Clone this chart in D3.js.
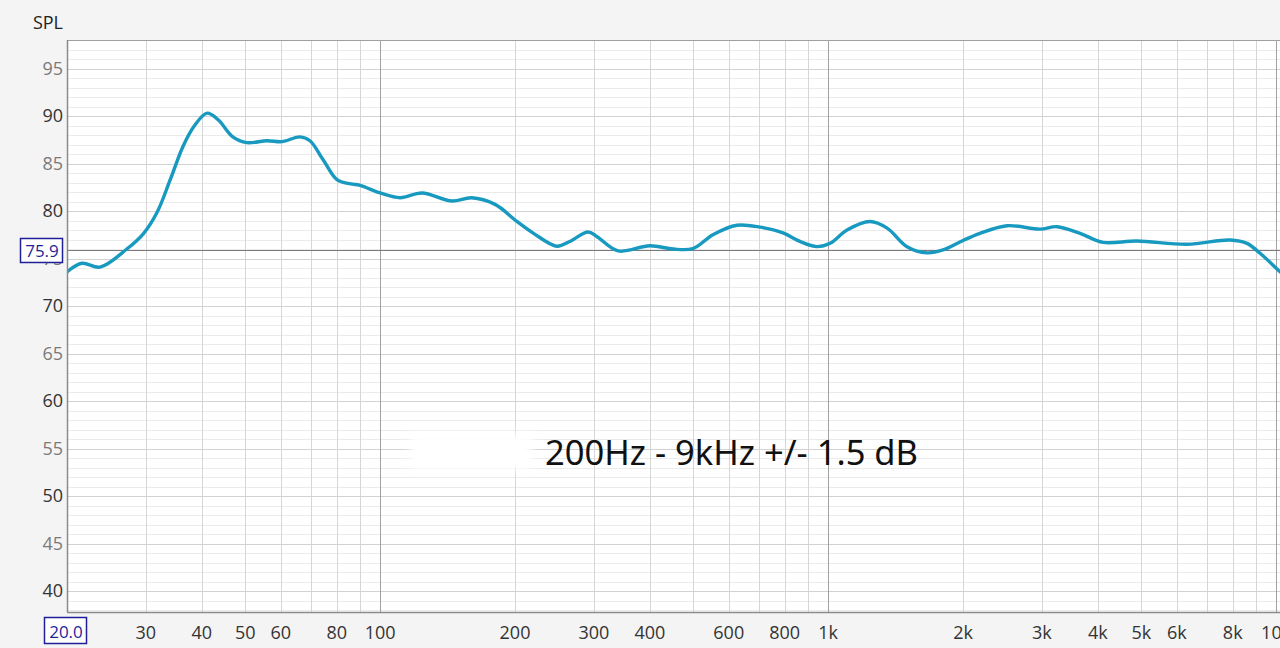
<!DOCTYPE html>
<html><head><meta charset="utf-8">
<script src="https://cdn.jsdelivr.net/npm/d3@7"></script>
<style>
html,body{margin:0;padding:0;background:#f4f4f4;}
svg{display:block;}
</style></head>
<body>
<svg id="c" width="1280" height="648"></svg>
<script>
// Frequency response data (Hz, dB SPL)
const freqs = [20, 21.6, 23.7, 27.2, 29.6, 31.8, 34.0, 36.3, 38.4, 41.1, 43.5, 46.9, 50.4, 55.9, 60.4, 66.2, 69.7, 74.6, 80.1, 86.0, 90.2, 100, 110.8, 124, 144.7, 160, 180.5, 202, 220, 248, 265, 291, 305, 340, 400, 451, 499, 553, 626, 705, 793, 865, 944, 1010, 1102, 1240, 1354, 1500, 1662, 1805, 2000, 2182, 2508, 2972, 3243, 3650, 4108, 4891, 6325, 7890, 8610, 9206, 10200];
const spl = [73.6, 74.5, 74.1, 76.0, 77.6, 79.9, 83.3, 86.8, 88.9, 90.3, 89.6, 87.8, 87.2, 87.4, 87.3, 87.8, 87.4, 85.4, 83.3, 82.85, 82.7, 81.9, 81.4, 81.9, 81.05, 81.4, 80.7, 78.9, 77.65, 76.3, 76.8, 77.8, 77.3, 75.8, 76.35, 76.0, 76.05, 77.5, 78.5, 78.3, 77.7, 76.8, 76.25, 76.6, 78.0, 78.9, 78.2, 76.25, 75.6, 75.9, 76.9, 77.65, 78.45, 78.1, 78.35, 77.65, 76.7, 76.85, 76.5, 76.95, 76.6, 75.55, 73.6];

const xTickValues = [30, 40, 50, 60, 80, 100, 200, 300, 400, 600, 800, 1000, 2000, 3000, 4000, 5000, 6000, 8000, 10000];
const xTickLabels = ["30", "40", "50", "60", "80", "100", "200", "300", "400", "600", "800", "1k", "2k", "3k", "4k", "5k", "6k", "8k", "10k"];
const yTickValues = [95, 90, 85, 80, 75, 70, 65, 60, 55, 50, 45, 40];
const referenceLevel = 75.9;
const startFreqLabel = "20.0";
const axisTitle = "SPL";
const annotation = "200Hz - 9kHz +/- 1.5 dB";

const svg = d3.select("#c");
const L = 67, R = 1280, T = 40, B = 612;
const x = d3.scaleLog().domain([20, 10200]).range([L, R]);
const y = d3.scaleLinear().domain([37.8, 98]).range([B, T]);
const FONT = "'Open Sans', 'Noto Sans', sans-serif";

const defs = svg.append("defs");
defs.append("clipPath").attr("id", "pc").append("rect")
  .attr("x", L).attr("y", T).attr("width", R - L).attr("height", B - T);
const blur = defs.append("filter").attr("id", "bl").attr("x", "-20%").attr("y", "-40%").attr("width", "140%").attr("height", "180%");
blur.append("feGaussianBlur").attr("stdDeviation", 4);

// plot background
svg.append("rect").attr("x", L).attr("y", T).attr("width", R - L).attr("height", B - T).attr("fill", "#ffffff");

const g = svg.append("g").attr("clip-path", "url(#pc)");

// horizontal grid every 1 dB
const hLines = d3.range(38, 99, 1);
g.selectAll(".hg").data(hLines).join("line")
  .attr("x1", L).attr("x2", R)
  .attr("y1", d => Math.round(y(d)) + 0.5).attr("y2", d => Math.round(y(d)) + 0.5)
  .attr("stroke", d => d % 5 === 0 ? "#d2d2d2" : "#ebebeb").attr("stroke-width", 1);

// vertical grid at 1..9 x decade
const vLines = [];
[10, 100, 1000, 10000].forEach(dec => { for (let m = 1; m <= 9; m++) { const f = m * dec; if (f >= 20 && f <= 10200) vLines.push(f); } });
g.selectAll(".vg").data(vLines).join("line")
  .attr("x1", d => Math.round(x(d)) + 0.5).attr("x2", d => Math.round(x(d)) + 0.5)
  .attr("y1", T).attr("y2", B)
  .attr("stroke", d => (d === 100 || d === 1000 || d === 10000) ? "#a0a0a0" : "#d6d6d6").attr("stroke-width", 1);

// white erased region
g.append("rect").attr("x", 410).attr("y", 434).attr("width", 122).attr("height", 36)
  .attr("fill", "#ffffff").attr("filter", "url(#bl)");

// reference line
g.append("line").attr("x1", L).attr("x2", R)
  .attr("y1", Math.round(y(referenceLevel)) + 0.5).attr("y2", Math.round(y(referenceLevel)) + 0.5)
  .attr("stroke", "#7a7a7a").attr("stroke-width", 1.2);

// curve
const line = d3.line().x((d, i) => x(freqs[i])).y(d => y(d)).curve(d3.curveCatmullRom.alpha(0.5));
g.append("path").datum(spl).attr("d", line)
  .attr("fill", "none").attr("stroke", "#1899c0").attr("stroke-width", 3.4)
  .attr("stroke-linejoin", "round").attr("stroke-linecap", "round");

// plot border
svg.append("line").attr("x1", L).attr("x2", R).attr("y1", T + 0.5).attr("y2", T + 0.5).attr("stroke", "#a0a0a0");
svg.append("line").attr("x1", L + 0.5).attr("x2", L + 0.5).attr("y1", T).attr("y2", B).attr("stroke", "#8a8a8a").attr("stroke-width", 1.5);
svg.append("line").attr("x1", L).attr("x2", R).attr("y1", B + 0.5).attr("y2", B + 0.5).attr("stroke", "#8a8a8a").attr("stroke-width", 1.5);

// y tick labels
svg.selectAll(".yl").data(yTickValues).join("text")
  .attr("x", 63).attr("y", d => y(d)).attr("dy", "0.35em")
  .attr("text-anchor", "end").attr("font-family", FONT).attr("font-size", 18)
  .attr("fill", d => d % 10 === 0 ? "#333333" : "#7a7a7a")
  .text(d => d);

// x tick labels
svg.selectAll(".xl").data(xTickValues).join("text")
  .attr("x", d => x(d)).attr("y", 633).attr("dy", "0.35em")
  .attr("text-anchor", "middle").attr("font-family", FONT).attr("font-size", 18)
  .attr("fill", "#333333")
  .text((d, i) => xTickLabels[i]);

// axis title
svg.append("text").attr("x", 63).attr("y", 29).attr("text-anchor", "end")
  .attr("font-family", FONT).attr("font-size", 18).attr("fill", "#222").text(axisTitle);

// reference level box
const refY = y(referenceLevel);
svg.append("rect").attr("x", 20.5).attr("y", refY - 11.5).attr("width", 42).attr("height", 24)
  .attr("fill", "#ffffff").attr("stroke", "#1f1f9a").attr("stroke-width", 1.5);
svg.append("text").attr("x", 42).attr("y", refY + 1).attr("dy", "0.35em").attr("text-anchor", "middle")
  .attr("font-family", FONT).attr("font-size", 17).attr("fill", "#1f1f9a").text(referenceLevel.toFixed(1));

// start freq box
svg.append("rect").attr("x", 44.5).attr("y", 617.5).attr("width", 42).attr("height", 26)
  .attr("fill", "#ffffff").attr("stroke", "#1f1f9a").attr("stroke-width", 1.5);
svg.append("text").attr("x", 66).attr("y", 632).attr("dy", "0.35em").attr("text-anchor", "middle")
  .attr("font-family", FONT).attr("font-size", 17).attr("fill", "#1f1f9a").text(startFreqLabel);

// annotation
svg.append("text").attr("x", 545).attr("y", 465)
  .attr("font-family", "'Noto Sans', 'Open Sans', sans-serif").attr("font-size", 35)
  .attr("textLength", 373).attr("lengthAdjust", "spacingAndGlyphs")
  .attr("fill", "#111").text(annotation);
</script>
</body></html>
